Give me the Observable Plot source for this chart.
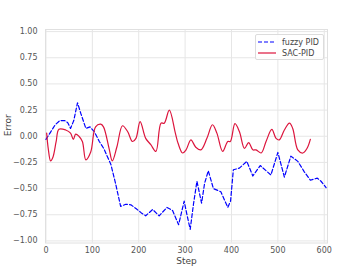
<!DOCTYPE html>
<html>
<head>
<meta charset="utf-8">
<script src="https://cdn.jsdelivr.net/npm/d3@7"></script>
<script src="https://cdn.jsdelivr.net/npm/@observablehq/plot@0.6"></script>
<style>
  html, body { margin: 0; padding: 0; background: #fff; }
  #wrap { position: relative; width: 360px; height: 270px; font-family: "DejaVu Sans", sans-serif; }
  #legend { position: absolute; left: 255px; top: 34px; width: 67px; height: 24px; border: 1px solid #dcdcdc; border-radius: 2px; background: rgba(255,255,255,0.85); font-size: 8px; color: #444; }
  .row { position: absolute; left: 2px; height: 10px; display: flex; align-items: center; }
  .row svg { margin-right: 6px; }
</style>
</head>
<body>
<div id="wrap"></div>
<script>
const seriesNames = ["fuzzy PID", "SAC-PID"];

const fuzzyStep = [0,10,20,30,40,47,53,60,68,75,86,95,104,115,125,140,150,161,172,183,194,205,215,230,244,261,273,286,298,304,311,318,325.5,335.5,342,350,361,377,392,398,404,417,433,446,462,485,500,514,528,543,557,570,585,593,604];
const fuzzyErr  = [-0.03,0.04,0.11,0.15,0.15,0.13,0.075,0.15,0.32,0.22,0.075,0.09,0.045,-0.05,-0.12,-0.27,-0.45,-0.67,-0.65,-0.655,-0.69,-0.73,-0.76,-0.70,-0.76,-0.68,-0.71,-0.845,-0.62,-0.75,-0.89,-0.65,-0.43,-0.64,-0.45,-0.33,-0.50,-0.53,-0.68,-0.62,-0.32,-0.305,-0.24,-0.38,-0.28,-0.37,-0.155,-0.39,-0.19,-0.24,-0.34,-0.42,-0.40,-0.43,-0.49];

const sacStep = [1.5,5,10,15,22,28,42.5,53,59,64,71,78.5,86,96.5,107,118,124,136,143,153,165,176,186.5,194,203,215,226,237,248,255,266,279,285,294.5,302,312.5,323,334,347,359,368.5,381,392,397.5,407.5,417,428,437,446,453,464,474.5,487,496,503,514,525,532,543,554,563,570];
const sacErr  = [0.03,-0.12,-0.235,-0.2,-0.05,0.067,0.06,0.03,-0.03,0.02,0.0,-0.05,-0.225,-0.15,0.09,0.115,0.09,-0.115,-0.235,-0.10,0.10,0.045,-0.05,-0.02,0.14,-0.02,-0.08,-0.145,0.125,0.125,0.25,0.03,-0.07,-0.16,-0.13,-0.035,-0.105,-0.13,-0.02,0.11,0.03,-0.145,-0.05,-0.05,0.12,0.045,-0.115,-0.06,-0.13,-0.13,-0.16,-0.05,0.065,-0.02,-0.035,0.06,0.125,0.075,-0.13,-0.16,-0.115,-0.03];

const xTicks = [0,100,200,300,400,500,600];
const yTicks = [-1,-0.75,-0.5,-0.25,0,0.25,0.5,0.75,1];
const seriesColors = ["#0000ff", "#dc143c"];

const fuzzy = fuzzyStep.map((s, i) => ({step: s, err: fuzzyErr[i]}));
const sac = sacStep.map((s, i) => ({step: s, err: sacErr[i]}));

const chart = Plot.plot({
  width: 360,
  height: 270,
  marginLeft: 45,
  marginRight: 33,
  marginTop: 29,
  marginBottom: 27.5,
  style: {fontFamily: "DejaVu Sans, sans-serif", fontSize: "8px", color: "#555", background: "#fff"},
  x: {domain: [-1, 607]},
  y: {domain: [-1.02, 1.02]},
  marks: [
    Plot.gridX(xTicks, {stroke: "#e6e6e6", strokeOpacity: 1, strokeWidth: 1}),
    Plot.gridY(yTicks, {stroke: "#e6e6e6", strokeOpacity: 1, strokeWidth: 1}),
    Plot.frame({stroke: "#e0e0e0", strokeWidth: 1}),
    Plot.axisX(xTicks, {tickSize: 0, tickPadding: 4, label: null, fill: "#555"}),
    Plot.axisY(yTicks, {tickSize: 0, tickPadding: 8, label: null, tickFormat: d3.format(".2f"), fill: "#555"}),
    Plot.text(["Step"], {frameAnchor: "bottom", dy: 20.5, fontSize: 9, fill: "#444"}),
    Plot.text(["Error"], {frameAnchor: "left", dx: -37, rotate: -90, fontSize: 9, fill: "#444"}),
    Plot.line(fuzzy, {x: "step", y: "err", stroke: seriesColors[0], strokeWidth: 1.2, strokeDasharray: "4,2.2"}),
    Plot.line(sac, {x: "step", y: "err", stroke: seriesColors[1], strokeWidth: 1.2, curve: "catmull-rom"})
  ]
});

const wrap = document.getElementById("wrap");
wrap.appendChild(chart);

const legend = document.createElement("div");
legend.id = "legend";
seriesNames.forEach((name, i) => {
  const row = document.createElement("div");
  row.className = "row";
  row.style.top = (2 + i * 11) + "px";
  const dash = i === 0 ? 'stroke-dasharray="4,2"' : '';
  row.innerHTML = `<svg width="18" height="4"><line x1="0" y1="2" x2="18" y2="2" stroke="${seriesColors[i]}" stroke-width="1.2" ${dash}/></svg><span>${name}</span>`;
  legend.appendChild(row);
});
wrap.appendChild(legend);
</script>
</body>
</html>
